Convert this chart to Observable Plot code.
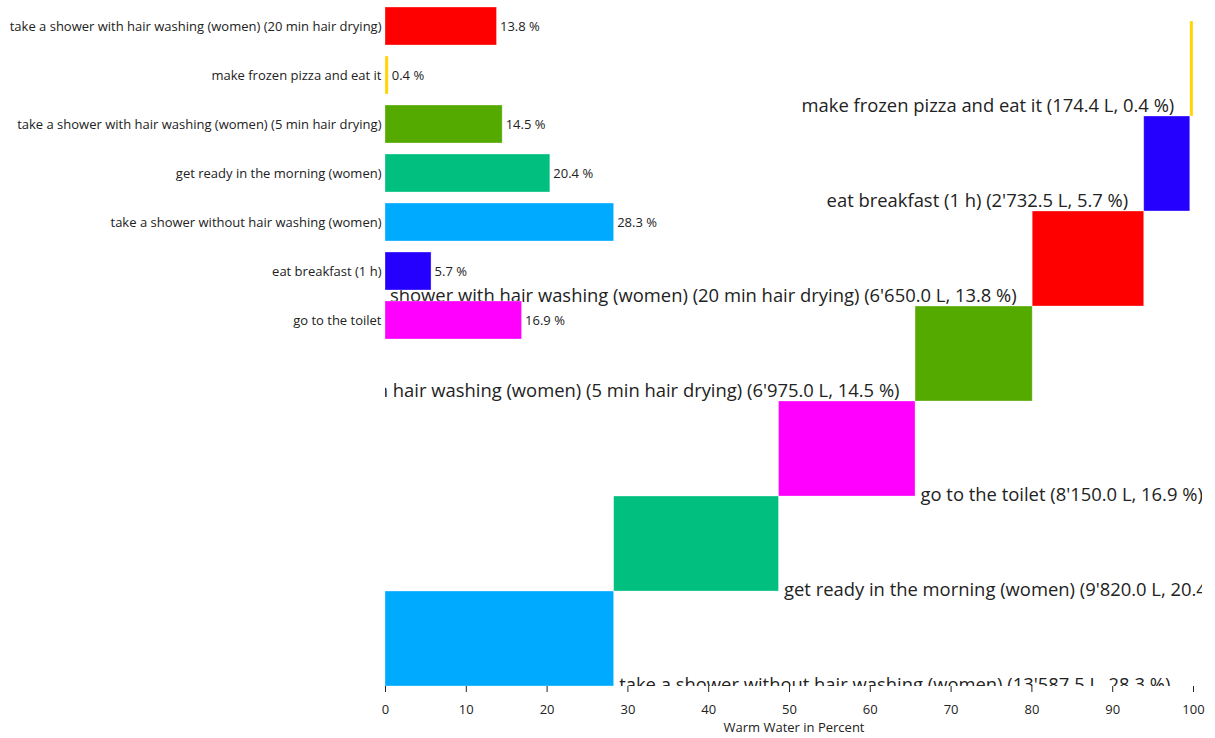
<!DOCTYPE html>
<html><head><meta charset="utf-8">
<script src="https://cdn.jsdelivr.net/npm/d3@7"></script>
<script src="https://cdn.jsdelivr.net/npm/@observablehq/plot@0.6"></script>
<style>
body{margin:0;background:#fff}
#wrap{position:relative;width:1215px;height:738px}
#wrap svg{position:absolute;left:0;top:0}
</style>
</head><body><div id="wrap"></div>
<script>
const activities = [
  "take a shower with hair washing (women) (20 min hair drying)",
  "make frozen pizza and eat it",
  "take a shower with hair washing (women) (5 min hair drying)",
  "get ready in the morning (women)",
  "take a shower without hair washing (women)",
  "eat breakfast (1 h)",
  "go to the toilet"
];
const liters = [6650.0, 174.4, 6975.0, 9820.0, 13587.5, 2732.5, 8150.0];
const percents = [13.8, 0.4, 14.5, 20.4, 28.3, 5.7, 16.9];
const colors = ["#ff0000", "#ffd400", "#55aa00", "#00bf7f", "#00aaff", "#2600ff", "#ff00ff"];
const xTicks = [0, 10, 20, 30, 40, 50, 60, 70, 80, 90, 100];
const xLabel = "Warm Water in Percent";

const FONT = "Open Sans, sans-serif";
const W = 1215;
const fmtL = d3.formatLocale({decimal: ".", thousands: "'", grouping: [3], currency: ["", ""]}).format(",.1f");

const rows = activities.map((a, i) => ({activity: a, liters: liters[i], pct: percents[i], color: colors[i]}));

// staircase: sorted by share, largest at bottom
const sorted = rows.slice().sort((a, b) => b.pct - a.pct);
let acc = 0;
const steps = sorted.map(d => {
  const x1 = acc; acc += d.pct;
  return {...d, x1, x2: acc, label: `${d.activity} (${fmtL(d.liters)} L, ${d.pct.toFixed(1)} %)`};
});
const stairOrder = steps.map(d => d.activity).reverse();

const stair = Plot.plot({
  width: W, height: 738,
  marginLeft: 385, marginRight: 13, marginTop: 20.5, marginBottom: 52,
  insetRight: 9,
  style: {fontFamily: FONT, fontSize: "13px", background: "transparent", color: "#222"},
  x: {domain: [0, 100], ticks: xTicks},
  y: {domain: stairOrder, padding: 0, axis: null},
  marks: [
    Plot.rect(steps, {x1: "x1", x2: "x2", y: "activity", fill: d => d.color, stroke: "white", strokeOpacity: 0.4, strokeWidth: 0.8}),
    Plot.text(steps.filter(d => d.x1 <= 50), {x: "x2", y: "activity", text: "label", frameAnchor: "bottom", textAnchor: "start", dx: 5, dy: 52, fontSize: 18.4, fill: "#222", clip: true}),
    Plot.text(steps.filter(d => d.x1 > 50), {x: "x1", y: "activity", text: "label", textAnchor: "end", dx: -16, dy: 37, fontSize: 18.4, fill: "#222", clip: true}),
    Plot.axisX({ticks: xTicks, tickSize: 6, tickPadding: 12, label: null, fontSize: 13}),
    Plot.text([xLabel], {text: d => d, frameAnchor: "bottom", dy: 45, fontSize: 13, fill: "#222"})
  ]
});

const bars = Plot.plot({
  width: W, height: 345,
  marginLeft: 385, marginRight: 13, marginTop: 1.5, marginBottom: 0,
  insetRight: 9,
  style: {fontFamily: FONT, fontSize: "13px", background: "transparent", color: "#222"},
  x: {domain: [0, 100], axis: null},
  y: {domain: activities, paddingInner: 0.22, paddingOuter: 0.11},
  marks: [
    Plot.barX(rows, {x: "pct", y: "activity", fill: d => d.color, stroke: "white", strokeOpacity: 0.4, strokeWidth: 0.8}),
    Plot.text(rows, {x: "pct", y: "activity", text: d => `${d.pct.toFixed(1)} %`, textAnchor: "start", dx: 3, fontSize: 13, fill: "#222"}),
    Plot.axisY({tickSize: 0, tickPadding: 4, label: null, fontSize: 13})
  ]
});

const wrap = document.getElementById("wrap");
wrap.appendChild(stair);
wrap.appendChild(bars);
</script>
</body></html>
